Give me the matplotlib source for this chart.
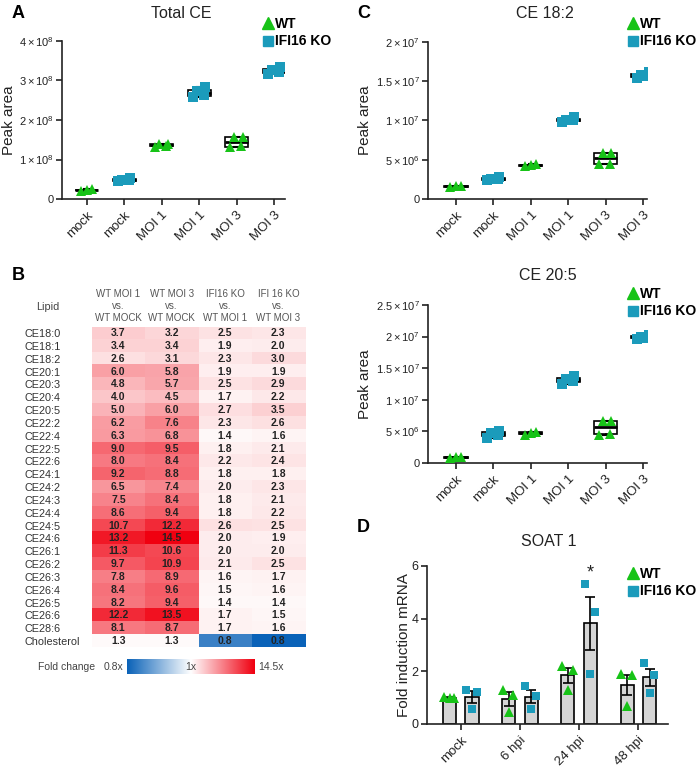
import numpy as np
import matplotlib
matplotlib.use("Agg")
import matplotlib.pyplot as plt
from matplotlib.colors import LinearSegmentedColormap, TwoSlopeNorm
from matplotlib.lines import Line2D

plt.rcParams['font.family'] = ['Liberation Sans', 'DejaVu Sans']
plt.rcParams['mathtext.fontset'] = 'custom'
plt.rcParams['mathtext.rm'] = 'Liberation Sans'
plt.rcParams['mathtext.it'] = 'Liberation Sans:italic'
plt.rcParams['mathtext.bf'] = 'Liberation Sans:bold'

# ---------------- data ----------------
groups = ["mock", "mock", "MOI 1", "MOI 1", "MOI 3", "MOI 3"]
genotypes = ["WT", "KO", "WT", "KO", "WT", "KO"]

# peak areas, panel A (total CE)
total_ce = [
    [2.1e7, 2.3e7, 2.5e7],
    [4.5e7, 4.7e7, 4.9e7, 5.2e7],
    [1.32e8, 1.35e8, 1.39e8, 1.40e8],
    [2.58e8, 2.63e8, 2.73e8, 2.84e8],
    [1.32e8, 1.33e8, 1.57e8, 1.58e8],
    [3.16e8, 3.21e8, 3.26e8, 3.35e8],
]
total_ce_ticks = [0, 1e8, 2e8, 3e8, 4e8]
total_ce_ticklabels = ["0", r"$1\times10^{8}$", r"$2\times10^{8}$",
                       r"$3\times10^{8}$", r"$4\times10^{8}$"]

# panel C, CE 18:2
ce182 = [
    [1.5e6, 1.6e6, 1.7e6],
    [2.4e6, 2.5e6, 2.6e6, 2.8e6],
    [4.2e6, 4.3e6, 4.4e6],
    [9.8e6, 10.0e6, 10.1e6, 10.4e6],
    [4.4e6, 4.5e6, 5.8e6, 5.8e6],
    [15.4e6, 15.6e6, 15.8e6, 16.2e6],
]
ce182_ticks = [0, 5e6, 1e7, 1.5e7, 2e7]
ce182_ticklabels = ["0", r"$5\times10^{6}$", r"$1\times10^{7}$",
                    r"$1.5\times10^{7}$", r"$2\times10^{7}$"]

# panel C, CE 20:5
ce205 = [
    [0.8e6, 0.9e6, 1.0e6],
    [4.0e6, 4.4e6, 4.8e6, 5.1e6],
    [4.5e6, 4.8e6, 4.9e6],
    [12.5e6, 12.9e6, 13.3e6, 13.7e6],
    [4.5e6, 4.6e6, 6.7e6, 6.7e6],
    [19.6e6, 19.8e6, 20.0e6, 20.2e6],
]
ce205_ticks = [0, 5e6, 1e7, 1.5e7, 2e7, 2.5e7]
ce205_ticklabels = ["0", r"$5\times10^{6}$", r"$1\times10^{7}$",
                    r"$1.5\times10^{7}$", r"$2\times10^{7}$", r"$2.5\times10^{7}$"]

# panel B, fold changes
lipids = ["CE18:0", "CE18:1", "CE18:2", "CE20:1", "CE20:3", "CE20:4", "CE20:5",
          "CE22:2", "CE22:4", "CE22:5", "CE22:6", "CE24:1", "CE24:2", "CE24:3",
          "CE24:4", "CE24:5", "CE24:6", "CE26:1", "CE26:2", "CE26:3", "CE26:4",
          "CE26:5", "CE26:6", "CE28:6", "Cholesterol"]
comparisons = ["WT MOI 1\nvs.\nWT MOCK", "WT MOI 3\nvs.\nWT MOCK",
               "IFI16 KO\nvs.\nWT MOI 1", "IFI 16 KO\nvs.\nWT MOI 3"]
fc_wt_moi1 = [3.7, 3.4, 2.6, 6.0, 4.8, 4.0, 5.0, 6.2, 6.3, 9.0, 8.0, 9.2, 6.5,
              7.5, 8.6, 10.7, 13.2, 11.3, 9.7, 7.8, 8.4, 8.2, 12.2, 8.1, 1.3]
fc_wt_moi3 = [3.2, 3.4, 3.1, 5.8, 5.7, 4.5, 6.0, 7.6, 6.8, 9.5, 8.4, 8.8, 7.4,
              8.4, 9.4, 12.2, 14.5, 10.6, 10.9, 8.9, 9.6, 9.4, 13.5, 8.7, 1.3]
fc_ko_moi1 = [2.5, 1.9, 2.3, 1.9, 2.5, 1.7, 2.7, 2.3, 1.4, 1.8, 2.2, 1.8, 2.0,
              1.8, 1.8, 2.6, 2.0, 2.0, 2.1, 1.6, 1.5, 1.4, 1.7, 1.7, 0.84]
fc_ko_moi3 = [2.3, 2.0, 3.0, 1.9, 2.9, 2.2, 3.5, 2.6, 1.6, 2.1, 2.4, 1.8, 2.3,
              2.1, 2.2, 2.5, 1.9, 2.0, 2.5, 1.7, 1.6, 1.4, 1.5, 1.6, 0.78]

# panel D, SOAT1 fold induction
soat_times = ["mock", "6 hpi", "24 hpi", "48 hpi"]
soat_wt = [[1.02, 1.0, 0.98], [1.3, 1.1, 0.45], [2.2, 2.05, 1.3], [1.88, 1.85, 0.7]]
soat_ko = [[1.3, 1.2, 0.58], [1.43, 1.07, 0.58], [5.3, 4.25, 1.9], [2.3, 1.85, 1.18]]
soat_ticks = [0, 2, 4, 6]

# ---------------- style ----------------
GREEN = "#17c317"
TEAL = "#1b9bbb"
DARK = "#222222"
jitter = {3: [-0.16, 0.0, 0.14], 4: [-0.17, 0.12, -0.06, 0.16]}
soat_jit = [-0.1, 0.08, 0.0]

W, H = 700, 774
fig = plt.figure(figsize=(W / 100, H / 100), dpi=100)


def rect(l, t, r, b):
    return [l / W, 1 - b / H, (r - l) / W, (b - t) / H]


def fxy(x, y):
    return (x / W, 1 - y / H)


def style_axes(ax):
    for s in ["top", "right"]:
        ax.spines[s].set_visible(False)
    for s in ["left", "bottom"]:
        ax.spines[s].set_linewidth(1.2)
        ax.spines[s].set_color(DARK)
    ax.tick_params(direction="out", length=4, width=1.2, color=DARK, labelcolor=DARK)
    ax.tick_params(axis="y", pad=2)


def add_legend(ax, x, y):
    handles = [Line2D([], [], marker="^", ls="none", color=GREEN, markersize=8.5),
               Line2D([], [], marker="s", ls="none", color=TEAL, markersize=7.5)]
    ax.legend(handles, ["WT", "IFI16 KO"], loc="upper left", bbox_to_anchor=fxy(x, y),
              bbox_transform=fig.transFigure, frameon=False, handlelength=0.7,
              handletextpad=0.15, borderpad=0, borderaxespad=0, labelspacing=0.25,
              prop=dict(weight="bold", size=10))


def box_panel(r, data, ticks, ticklabels, xlim, title_xy, title, leg_xy, ylabel_x):
    ax = fig.add_axes(rect(*r))
    ax.boxplot(data, positions=range(len(data)), widths=0.62, whis=(0, 100),
               showfliers=False, patch_artist=True, capwidths=0.12, zorder=2,
               boxprops=dict(facecolor="white", edgecolor="black", lw=1.2),
               medianprops=dict(color="black", lw=2),
               whiskerprops=dict(color="black", lw=1.2),
               capprops=dict(color="black", lw=1.5))
    for i, vals in enumerate(data):
        offs = jitter[len(vals)]
        xs = [i + o for o in offs]
        if genotypes[i] == "WT":
            ax.plot(xs, vals, "^", color=GREEN, markersize=7, mew=0, zorder=3)
        else:
            ax.plot(xs, vals, "s", color=TEAL, markersize=6.5, mew=0, zorder=3)
    ax.set_xlim(*xlim)
    ax.set_ylim(ticks[0], ticks[-1])
    ax.set_yticks(ticks)
    ax.set_yticklabels(ticklabels, fontsize=8)
    ax.set_xticks(range(len(groups)))
    ax.set_xticklabels(groups, fontsize=9.5, rotation=45, ha="right", rotation_mode="anchor")
    style_axes(ax)
    ax.set_ylabel("Peak area", fontsize=11, color=DARK)
    ax.yaxis.set_label_coords(ylabel_x, 0.5)
    fig.text(*fxy(*title_xy), title, fontsize=11.5, ha="center", va="center", color=DARK)
    add_legend(ax, *leg_xy)
    return ax


# ---------------- panel A ----------------
box_panel((62, 41, 285, 199), total_ce, total_ce_ticks, total_ce_ticklabels,
          (-0.66, 5.29), (181, 13), "Total CE", (263, 17), -0.205)
fig.text(*fxy(12, 14), "A", fontsize=13, fontweight="bold", va="center")

# ---------------- panel C ----------------
box_panel((428, 41.7, 647, 199), ce182, ce182_ticks, ce182_ticklabels,
          (-0.75, 5.11), (545, 13), "CE 18:2", (628, 17), -0.255)
box_panel((428, 305, 647, 463), ce205, ce205_ticks, ce205_ticklabels,
          (-0.75, 5.11), (548, 276), "CE 20:5", (628, 287), -0.255)
fig.text(*fxy(357, 14), "C", fontsize=13, fontweight="bold", va="center")

# ---------------- panel D ----------------
axd = fig.add_axes(rect(427, 566, 668, 724))
xg = np.arange(len(soat_times))
for pts, off, mk, col, ms in [(soat_wt, -0.19, "^", GREEN, 6.5), (soat_ko, 0.19, "s", TEAL, 5.5)]:
    arr = np.array(pts)
    mean = arr.mean(axis=1)
    sem = arr.std(axis=1, ddof=1) / np.sqrt(arr.shape[1])
    axd.bar(xg + off, mean, width=0.22, color="#d5d5d5", edgecolor="black", lw=1.2, zorder=2)
    axd.errorbar(xg + off, mean, yerr=sem, fmt="none", ecolor="black", elinewidth=1.2,
                 capsize=3.5, capthick=1.2, zorder=3)
    for i in range(len(xg)):
        axd.plot(xg[i] + off + np.array(soat_jit), arr[i], mk, color=col, markersize=ms,
                 mew=0, zorder=4)
axd.text(2 + 0.19, 5.75, "*", fontsize=13, ha="center", va="center", color=DARK)
axd.set_xlim(-0.57, 3.5)
axd.set_ylim(0, 6)
axd.set_yticks(soat_ticks)
axd.set_yticklabels([str(t) for t in soat_ticks], fontsize=9)
axd.set_xticks(xg)
axd.set_xticklabels(soat_times, fontsize=9.5, rotation=45, ha="right", rotation_mode="anchor")
style_axes(axd)
axd.set_ylabel("Fold induction mRNA", fontsize=11, color=DARK)
axd.yaxis.set_label_coords(-0.066, 0.5)
fig.text(*fxy(549, 541), "SOAT 1", fontsize=11.5, ha="center", va="center", color=DARK)
fig.text(*fxy(357, 527), "D", fontsize=13, fontweight="bold", va="center")
add_legend(axd, 628, 567)

# ---------------- panel B ----------------
fc = np.array([fc_wt_moi1, fc_wt_moi3, fc_ko_moi1, fc_ko_moi3]).T
cmap = LinearSegmentedColormap.from_list("fc", ["#0a62b8", "#ffffff", "#f00010"])
norm = TwoSlopeNorm(vmin=0.8, vcenter=1.0, vmax=14.5)
axh = fig.add_axes(rect(91.7, 326.6, 305, 647.5))
axh.imshow(fc, cmap=cmap, norm=norm, aspect="auto", interpolation="nearest")
for i in range(fc.shape[0]):
    for j in range(fc.shape[1]):
        axh.text(j, i, f"{fc[i, j]:.1f}", ha="center", va="center", fontsize=7.5,
                 fontweight="bold", color=DARK)
axh.set_yticks(range(len(lipids)))
axh.set_yticklabels(lipids, ha="left", fontsize=7.8, color="#333333")
axh.tick_params(axis="y", left=False, pad=45)
axh.set_xticks([])
for s in axh.spines.values():
    s.set_visible(False)
for j, lab in enumerate(comparisons):
    axh.text(j, -2.1, lab, ha="center", va="center", fontsize=7, color="#555555",
             linespacing=1.3)
fig.text(*fxy(48, 307), "Lipid", fontsize=7.8, ha="center", va="center", color="#444444")
fig.text(*fxy(12, 276), "B", fontsize=13, fontweight="bold", va="center")

# colour bar
axc = fig.add_axes(rect(127, 659, 254, 674))
axc.imshow(np.linspace(0, 1, 256)[None, :], cmap=cmap, aspect="auto")
axc.set_xticks([])
axc.set_yticks([])
for s in axc.spines.values():
    s.set_visible(False)
axc.text(0.5, 0.5, "1x", transform=axc.transAxes, ha="center", va="center",
         fontsize=7.5, color="#444444")
fig.text(*fxy(38, 667), "Fold change", fontsize=7.5, va="center", color="#444444")
fig.text(*fxy(123, 667), "0.8x", fontsize=7.5, ha="right", va="center", color="#444444")
fig.text(*fxy(258, 667), "14.5x", fontsize=7.5, ha="left", va="center", color="#444444")

fig.savefig("out.png", dpi=100)
